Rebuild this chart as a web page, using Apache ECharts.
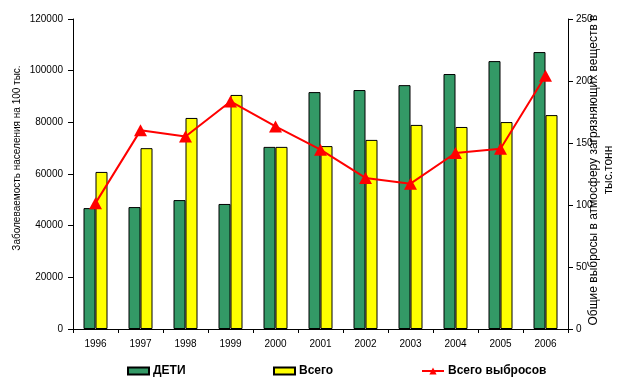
<!DOCTYPE html>
<html><head><meta charset="utf-8">
<script src="https://cdn.jsdelivr.net/npm/echarts@6/dist/echarts.min.js"></script>
<style>html,body{margin:0;padding:0;background:#fff}#c{width:623px;height:381px}</style>
</head><body><div id="c"></div>
<script>
var years = ['1996','1997','1998','1999','2000','2001','2002','2003','2004','2005','2006'];
var deti = [46800, 47200, 49900, 48400, 70500, 91700, 92500, 94400, 98700, 103700, 107200];
var vsego = [60800, 70000, 81700, 90600, 70500, 70800, 73200, 79000, 78200, 80100, 82800];
var vybrosy = [101.5, 160.2, 155.3, 183.5, 163.4, 144.6, 121.8, 117.2, 141.9, 145.4, 204.3];
var leftTicks = [0, 20000, 40000, 60000, 80000, 100000, 120000];
var rightTicks = [0, 50, 100, 150, 200, 250];
var seriesNames = ['ДЕТИ', 'Всего', 'Всего выбросов'];
var leftTitle = 'Заболеваемость населения на 100 тыс.';
var rightTitle = 'Общие выбросы в атмосферу загрязняющих веществ в\nтыс.тонн';

var chart = echarts.init(document.getElementById('c'), null, {renderer: 'canvas'});
var F = 'Arial, "Liberation Sans", sans-serif';
var legendText = {fontFamily: F, fontSize: 12, fontWeight: 'bold', color: '#000', padding: [0, 0, 0, -1]};
chart.setOption({
  animation: false,
  backgroundColor: '#fff',
  grid: {left: 73, right: 55, top: 19, bottom: 52},
  legend: [
    {data: [{name: seriesNames[0], icon: 'rect'}], left: 122, top: 360, itemWidth: 21, itemHeight: 7, itemGap: 0, textStyle: legendText},
    {data: [{name: seriesNames[1], icon: 'rect'}], left: 268, top: 360, itemWidth: 21, itemHeight: 7, itemGap: 0, textStyle: legendText},
    {data: [seriesNames[2]], left: 416, top: 360, itemWidth: 22, itemHeight: 9, itemGap: 0, textStyle: legendText}
  ],
  xAxis: {
    type: 'category', data: years,
    axisLine: {lineStyle: {color: '#000', width: 1}},
    axisTick: {show: true, length: 4, lineStyle: {color: '#000'}},
    axisLabel: {color: '#000', fontFamily: F, fontSize: 10, margin: 10}
  },
  yAxis: [
    {type: 'value', min: leftTicks[0], max: leftTicks[leftTicks.length-1], interval: leftTicks[1]-leftTicks[0],
     position: 'left',
     axisLine: {show: true, lineStyle: {color: '#000'}},
     axisTick: {show: true, length: 5, lineStyle: {color: '#000'}},
     splitLine: {show: false},
     axisLabel: {color: '#000', fontFamily: F, fontSize: 10, margin: 10, formatter: function (v) { return String(v); }}},
    {type: 'value', min: rightTicks[0], max: rightTicks[rightTicks.length-1], interval: rightTicks[1]-rightTicks[0],
     position: 'right',
     axisLine: {show: true, lineStyle: {color: '#000'}},
     axisTick: {show: true, length: 5, lineStyle: {color: '#000'}},
     splitLine: {show: false},
     axisLabel: {color: '#000', fontFamily: F, fontSize: 10, margin: 8, formatter: function (v) { return String(v); }}}
  ],
  graphic: [
    {type: 'text', x: 17, y: 158, rotation: Math.PI/2,
     style: {text: leftTitle, font: '10px ' + F, fill: '#000', textAlign: 'center', textVerticalAlign: 'middle'}},
    {type: 'text', x: 601, y: 170, rotation: Math.PI/2,
     style: {text: rightTitle, font: '12px ' + F, fill: '#000', textAlign: 'center', textVerticalAlign: 'middle', lineHeight: 15}}
  ],
  series: [
    {name: seriesNames[0], type: 'bar', data: deti, barWidth: 12, barGap: '0%', yAxisIndex: 0,
     itemStyle: {color: '#339966', borderColor: '#000', borderWidth: 1}},
    {name: seriesNames[1], type: 'bar', data: vsego, barWidth: 12, barGap: '0%', yAxisIndex: 0,
     itemStyle: {color: '#FFFF00', borderColor: '#000', borderWidth: 1}},
    {name: seriesNames[2], type: 'line', data: vybrosy, yAxisIndex: 1,
     symbol: 'triangle', symbolSize: [13, 12], z: 5,
     lineStyle: {color: '#FF0000', width: 2}, itemStyle: {color: '#FF0000'}}
  ]
});
</script></body></html>
